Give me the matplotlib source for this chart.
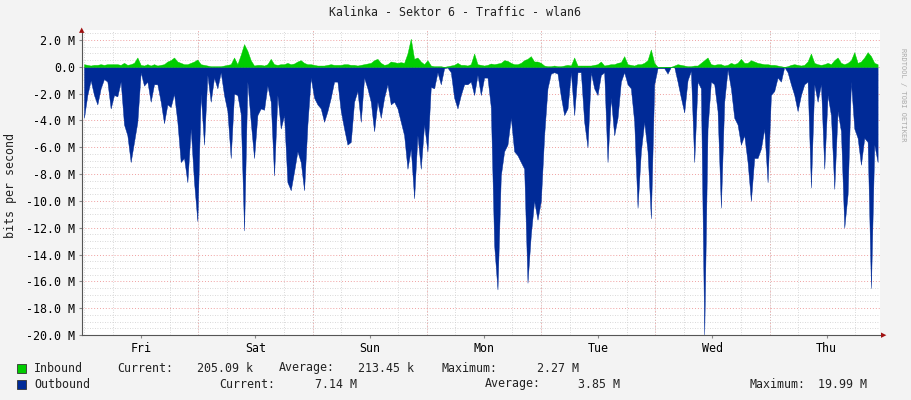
import numpy as np
import matplotlib
matplotlib.use("Agg")
import matplotlib.pyplot as plt
from matplotlib.ticker import MultipleLocator

# Outbound traffic (M bits/s), sampled roughly every 0.7 h from Fri 00:00
outbound = [
 3.8,2.1,1.0,2.1,2.8,1.6,0.9,1.1,3.1,2.1,2.2,1.1,4.3,5.1,7.1,5.6,4.1,0.4,1.4,1.1,
 2.6,1.3,1.3,2.6,4.2,2.8,3.0,2.0,4.1,7.1,6.8,8.6,4.6,8.6,11.5,2.0,5.8,0.6,2.6,0.8,
 1.6,0.4,2.1,3.3,6.8,2.0,2.1,3.5,12.2,1.1,4.1,6.8,3.6,3.1,3.2,1.4,2.6,8.1,2.1,4.6,3.6,
 8.6,9.2,7.8,6.3,7.1,9.2,4.3,0.8,2.3,2.8,3.1,4.1,3.3,2.3,1.1,1.1,3.3,4.6,5.8,5.6,
 2.6,1.8,4.1,0.8,1.6,2.6,4.8,2.6,3.8,2.3,1.3,2.8,2.6,3.1,4.1,5.1,7.6,6.1,9.8,5.1,
 7.6,4.3,6.3,1.5,1.6,0.4,1.3,0.1,0.05,0.4,2.3,3.1,2.1,1.3,1.3,1.1,2.1,0.6,2.1,0.8,0.8,
 3.0,13.3,16.6,8.1,6.3,5.8,3.8,6.3,6.6,7.1,7.6,16.1,12.5,10.0,11.4,10.0,5.1,1.6,0.5,0.4,
 0.5,2.2,3.6,3.1,0.4,3.6,0.4,0.4,4.1,6.0,0.4,1.6,2.1,0.6,0.4,7.1,2.3,5.1,3.8,1.1,
 0.4,1.3,1.6,4.1,10.5,6.3,4.1,6.3,11.3,1.3,0.1,0.1,0.1,0.5,0.0,0.0,1.1,2.3,3.4,1.0,0.3,
 7.1,1.1,1.6,20.0,4.6,1.1,1.3,3.3,10.5,2.6,0.2,1.6,3.8,4.3,5.8,5.1,7.1,10.0,6.8,6.8,
 6.1,4.6,8.6,2.1,1.8,0.8,1.1,0.0,0.4,1.3,2.1,3.3,2.1,1.3,1.1,9.0,1.3,2.6,1.3,7.6,
 2.1,3.6,9.1,3.3,4.8,12.0,9.5,1.1,4.6,5.3,7.3,5.3,5.6,16.5,5.8,7.1,
]
inbound = [
 .2,.15,.1,.15,.15,.2,.15,.2,.2,.2,.2,.15,.3,.15,.2,.3,.7,.15,.1,.2,
 .1,.2,.1,.15,.2,.4,.5,.7,.4,.3,.2,.2,.3,.4,.55,.2,.15,.1,.05,.05,
 .05,.05,.1,.15,.2,.7,.2,.9,1.7,1.2,.5,.1,.15,.15,.1,.2,.6,.2,.15,.2,.2,
 .3,.2,.25,.4,.5,.3,.2,.2,.15,.1,.1,.1,.15,.2,.15,.15,.15,.2,.2,.15,
 .15,.1,.15,.2,.25,.3,.5,.6,.3,.15,.2,.4,.35,.3,.35,.3,1.0,2.1,.6,.7,
 .4,.2,.5,.1,.05,.05,.05,0,.05,.1,.15,.3,.15,.15,.1,.2,1.0,.2,.15,.1,.15,
 .25,.2,.25,.3,.5,.45,.3,.2,.2,.3,.5,.6,.8,.4,.4,.3,.1,.05,.05,.1,
 .05,.05,.1,.15,.1,.7,.1,.1,.1,.1,.1,.15,.2,.4,.1,.15,.2,.2,.3,.35,
 .8,.2,.15,.1,.2,.2,.3,.5,1.3,.3,0,0,0,0,0,.1,.2,.15,.1,.05,.05,
 .1,.1,.3,.5,.7,.2,.15,.2,.2,.1,.15,.3,.2,.3,.6,.3,.3,.5,.4,.3,
 .25,.2,.2,.15,.15,.1,.05,0,.05,.15,.2,.15,.1,.15,.4,1.0,.3,.2,.15,.2,
 .3,.2,.5,.7,.3,.2,.3,.5,1.1,.3,.4,.7,1.1,.8,.3,.2,
]
days = ["Fri", "Sat", "Sun", "Mon", "Tue", "Wed", "Thu"]
y_ticks = [2, 0, -2, -4, -6, -8, -10, -12, -14, -16, -18, -20]
y_labels = ["2.0 M", "0.0"] + [f"{v:.1f} M" for v in y_ticks[2:]]

n = len(outbound)
t = np.linspace(0, 166.7, n)
out = -np.array(outbound)
inb = np.array(inbound[:n] + [0.2] * max(0, n - len(inbound)))

W, H = 911, 400
FS = 8.4
fig = plt.figure(figsize=(W / 100, H / 100), dpi=100)
fig.patch.set_facecolor("#f3f3f3")
ax = fig.add_axes([82 / W, 1 - 335 / H, (880 - 82) / W, (335 - 30) / H])
ax.set_facecolor("white")
ax.set_xlim(-0.42, 167.2)
ax.set_ylim(-20.0, 2.75)

mono = "DejaVu Sans Mono"
ax.xaxis.set_minor_locator(MultipleLocator(6))
ax.yaxis.set_minor_locator(MultipleLocator(0.5))
ax.grid(which="minor", color="#cccccc", linestyle=(0, (1, 2)), linewidth=0.6)
for d in range(1, 7):
    ax.axvline(d * 24, color="#f0a0a0", linestyle=(0, (1, 2)), linewidth=0.7, zorder=0.5)
for v in y_ticks:
    ax.axhline(v, color="#f0a0a0", linestyle=(0, (1, 2)), linewidth=0.7, zorder=0.5)
ax.set_axisbelow(True)

ax.fill_between(t, 0, out, color="#002a97", linewidth=0.3, edgecolor="#002a97", zorder=2)
ax.fill_between(t, 0, inb, color="#00cc00", linewidth=0.3, edgecolor="#00cc00", zorder=2)

ax.set_yticks(y_ticks)
ax.set_yticklabels(y_labels, fontfamily=mono, fontsize=FS)
ax.set_xticks([12 + 24 * i for i in range(7)])
ax.set_xticklabels(days, fontfamily=mono, fontsize=FS)
ax.tick_params(axis="both", which="major", length=2, color="#888888", pad=3)
ax.tick_params(which="minor", length=0)
for s in ["top", "right"]:
    ax.spines[s].set_visible(False)
for s in ["left", "bottom"]:
    ax.spines[s].set_color("#555555")
    ax.spines[s].set_linewidth(0.8)

fig.text(884 / W, 1 - 335 / H, "\u25b6", color="#a01010", fontsize=5, ha="center", va="center")
fig.text(82 / W, 1 - 30 / H, "\u25b2", color="#a01010", fontsize=5, ha="center", va="center")

fig.text(455 / W, 1 - 13 / H, "Kalinka - Sektor 6 - Traffic - wlan6", fontfamily=mono,
         fontsize=FS, ha="center", va="center", color="#222222")
fig.text(11 / W, 1 - 185 / H, "bits per second", fontfamily=mono, fontsize=FS,
         rotation=90, ha="center", va="center", color="#222222")
fig.text(903 / W, 1 - 95 / H, "RRDTOOL / TOBI OETIKER", fontfamily=mono, fontsize=5,
         rotation=270, ha="center", va="center", color="#aaaaaa")

def sq(x, y, c):
    fig.patches.append(plt.Rectangle((x / W, 1 - (y + 5) / H), 9 / W, 9 / H,
                                     transform=fig.transFigure, facecolor=c,
                                     edgecolor="#333333", linewidth=0.6))

sq(17, 368, "#00cc00")
sq(17, 384, "#002a97")
row1 = [(34, "Inbound"), (117, "Current:"), (197, "205.09 k"), (279, "Average:"),
        (358, "213.45 k"), (442, "Maximum:"), (537, "2.27 M")]
row2 = [(34, "Outbound"), (219, "Current:"), (315, "7.14 M"), (485, "Average:"),
        (578, "3.85 M"), (750, "Maximum:"), (818, "19.99 M")]
for y, row in [(368, row1), (384, row2)]:
    for x, s in row:
        fig.text(x / W, 1 - y / H, s, fontfamily=mono, fontsize=FS, ha="left", va="center",
                 color="#222222")

fig.savefig("out.png", dpi=100, facecolor=fig.get_facecolor())
